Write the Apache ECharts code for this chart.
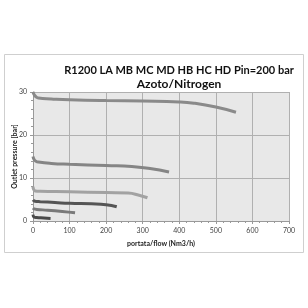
<!DOCTYPE html>
<html>
<head>
<meta charset="utf-8">
<script src="https://cdn.jsdelivr.net/npm/echarts@6/dist/echarts.min.js"></script>
<style>
  html, body { margin: 0; padding: 0; background: #fff; }
  #chart { width: 308px; height: 308px; }
</style>
</head>
<body>
<div id="chart"></div>
<script>
// curves, [flow, pressure]
var lineMD = [[0, 30], [3, 29.4], [8, 28.9], [15, 28.6], [50, 28.4], [100, 28.2], [200, 28.0], [300, 27.9], [400, 27.7], [440, 27.4], [500, 26.5], [555, 25.3]];
var lineMC = [[0, 15], [3, 14.3], [8, 13.9], [15, 13.7], [50, 13.4], [100, 13.2], [200, 12.9], [270, 12.7], [320, 12.2], [372, 11.4]];
var lineMB = [[0, 8], [2, 7.3], [6, 7.0], [20, 6.9], [100, 6.8], [200, 6.6], [260, 6.5], [290, 6.0], [313, 5.4]];
var lineHD = [[0, 4.9], [5, 4.6], [20, 4.5], [60, 4.3], [100, 4.1], [160, 4.0], [200, 3.8], [229, 3.3]];
var lineHC = [[0, 3.0], [3, 2.8], [10, 2.7], [40, 2.5], [80, 2.2], [115, 1.9]];
var lineLA = [[0, 1.5], [3, 0.9], [10, 0.8], [30, 0.7], [48, 0.6]];

var xTicks = [0, 700, 100];
var yTicks = [0, 30, 10];

var titleLine1 = 'R1200 LA MB MC MD HB HC HD Pin=200 bar';
var titleLine2 = 'Azoto/Nitrogen';

var font = 'Lato, "Open Sans", sans-serif';

function curve(data, color) {
  return {
    type: 'line',
    data: data,
    smooth: true,
    showSymbol: false,
    lineStyle: { color: color, width: 3 },
    z: 3
  };
}

function titleText(text, x, y, size) {
  return {
    text: text,
    left: x,
    top: y,
    textAlign: 'center',
    textStyle: { fontFamily: font, fontSize: size, fontWeight: 'bold', color: '#111' }
  };
}

var myChart = echarts.init(document.getElementById('chart'));
myChart.setOption({
  animation: false,
  backgroundColor: '#fff',
  title: [titleText(titleLine1, 174, 60, 11), titleText(titleLine2, 174, 73, 12)],
  graphic: [{
    type: 'rect',
    shape: { x: 4.5, y: 54.5, width: 299, height: 198 },
    style: { fill: 'none', stroke: '#cfcfcf', lineWidth: 1 },
    z: 0
  }],
  grid: {
    left: 33, right: 19, top: 92, bottom: 87,
    outerBoundsMode: 'none',
    show: true,
    backgroundColor: '#e8e8e8',
    borderWidth: 0
  },
  xAxis: {
    type: 'value',
    min: xTicks[0], max: xTicks[1], interval: xTicks[2],
    name: 'portata/flow (Nm3/h)',
    nameLocation: 'middle',
    nameGap: 19,
    nameMoveOverlap: false,
    nameTextStyle: { fontFamily: font, fontSize: 7, fontWeight: 'bold', color: '#222' },
    axisLine: { show: true, lineStyle: { color: '#999' } },
    axisTick: { show: true, length: 3, lineStyle: { color: '#999' } },
    minorTick: { show: true, splitNumber: 5, length: 2, lineStyle: { color: '#999' } },
    axisLabel: { fontFamily: font, fontSize: 7, color: '#444', margin: 6 },
    splitLine: { show: true, lineStyle: { color: '#b0b0b0', width: 1 } }
  },
  yAxis: {
    type: 'value',
    min: yTicks[0], max: yTicks[1], interval: yTicks[2],
    name: 'Outlet pressure [bar]',
    nameLocation: 'middle',
    nameGap: 15,
    nameMoveOverlap: false,
    nameTextStyle: { fontFamily: font, fontSize: 7, fontWeight: 'bold', color: '#222' },
    axisLine: { show: true, lineStyle: { color: '#999' } },
    axisTick: { show: true, length: 3, lineStyle: { color: '#999' } },
    minorTick: { show: true, splitNumber: 5, length: 2, lineStyle: { color: '#999' } },
    axisLabel: { fontFamily: font, fontSize: 7, color: '#444', margin: 6 },
    splitLine: { show: true, lineStyle: { color: '#b0b0b0', width: 1 } }
  },
  series: [
    curve(lineMD, '#8a8a8a'),
    curve(lineMC, '#858585'),
    curve(lineMB, '#a2a2a2'),
    curve(lineHD, '#555555'),
    curve(lineHC, '#7a7a7a'),
    curve(lineLA, '#4a4a4a')
  ]
});
</script>
</body>
</html>
